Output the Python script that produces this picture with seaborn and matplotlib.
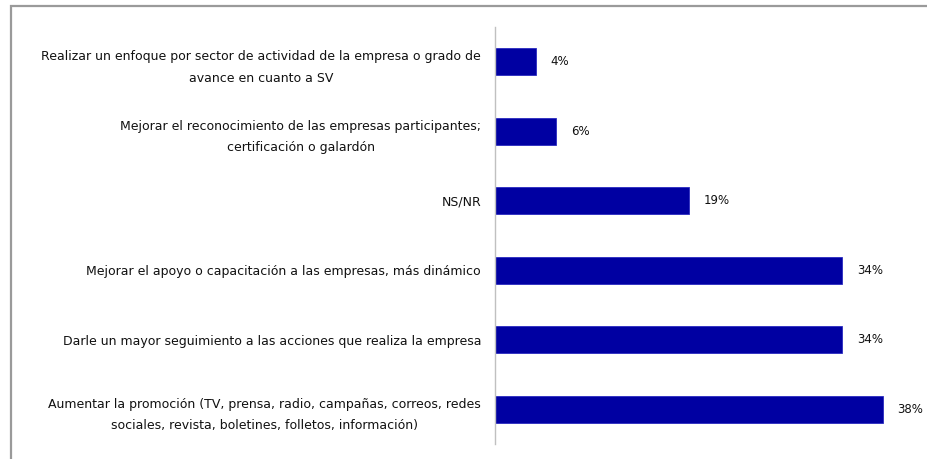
import matplotlib
matplotlib.use("Agg")
import matplotlib.pyplot as plt
from matplotlib.patches import Rectangle
import seaborn as sns
import pandas as pd

categories = [
    "Realizar un enfoque por sector de actividad de la empresa o grado de\navance en cuanto a SV",
    "Mejorar el reconocimiento de las empresas participantes;\ncertificación o galardón",
    "NS/NR",
    "Mejorar el apoyo o capacitación a las empresas, más dinámico",
    "Darle un mayor seguimiento a las acciones que realiza la empresa",
    "Aumentar la promoción (TV, prensa, radio, campañas, correos, redes\nsociales, revista, boletines, folletos, información)",
]
values = [4, 6, 19, 34, 34, 38]
value_labels = ["4%", "6%", "19%", "34%", "34%", "38%"]

df = pd.DataFrame({"categoria": categories, "porcentaje": values})

sns.set_theme(style="white")
plt.rcParams["font.family"] = ["DejaVu Sans"]

fig = plt.figure(figsize=(9.28, 4.59), dpi=100)
fig.patch.set_facecolor("white")

# outer frame, only its top and left edges fall inside the canvas
fig.patches.append(Rectangle((11 / 928, -0.05), 1.1, 1 - 6 / 459 + 0.05,
                             transform=fig.transFigure, fill=False,
                             edgecolor="#9a9a9a", linewidth=1.6, zorder=0))

ax = fig.add_axes([495 / 928, 15 / 459, 408 / 928, 417 / 459])
sns.barplot(data=df, x="porcentaje", y="categoria", ax=ax, color="#0000A2",
            saturation=1, width=0.39, edgecolor="#2a2ac0", linewidth=0.6)

ax.set_xlim(0, 40)
ax.set_xlabel("")
ax.set_ylabel("")
ax.set_xticks([])
ax.tick_params(axis="y", length=0, pad=10)
for lbl in ax.get_yticklabels():
    lbl.set_fontsize(9)
    lbl.set_color("#111111")
    lbl.set_multialignment("center")
    lbl.set_linespacing(1.85)

for s in ["top", "right", "bottom"]:
    ax.spines[s].set_visible(False)
ax.spines["left"].set_color("#c0c0c0")
ax.spines["left"].set_linewidth(1.0)
ax.set_facecolor("none")

for i, (v, t) in enumerate(zip(values, value_labels)):
    ax.annotate(t, xy=(v, i), xytext=(15, 0), textcoords="offset pixels",
                ha="left", va="center", fontsize=8.5, color="#111111")

fig.savefig("out.png", dpi=100)
